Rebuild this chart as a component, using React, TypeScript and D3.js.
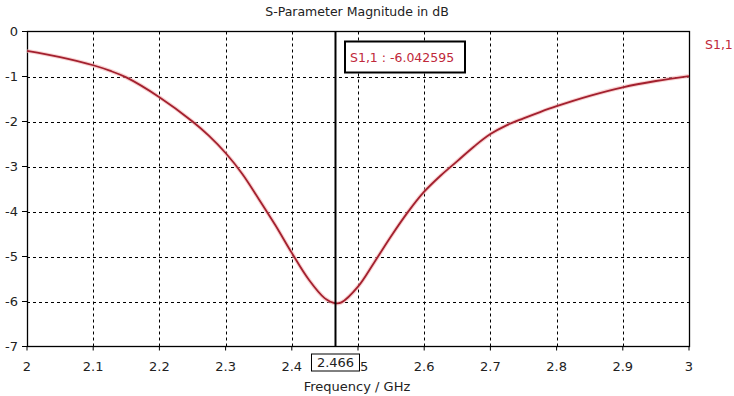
import React from "react";
import * as d3 from "d3";

// S1,1 magnitude (GHz, dB)
const freqs = [
  2.0, 2.05, 2.1, 2.125, 2.15, 2.2, 2.25, 2.275, 2.3, 2.325, 2.35, 2.375, 2.4,
  2.425, 2.45, 2.466, 2.475, 2.5, 2.525, 2.55, 2.575, 2.6, 2.625, 2.65, 2.675,
  2.7, 2.725, 2.75, 2.775, 2.8, 2.85, 2.9, 2.95, 3.0,
];
const s11 = [
  -0.43, -0.57, -0.75, -0.87, -1.02, -1.46, -2.0, -2.32, -2.7, -3.16, -3.72,
  -4.3, -4.92, -5.5, -5.93, -6.04, -6.02, -5.67, -5.12, -4.55, -4.02, -3.56,
  -3.2, -2.88, -2.56, -2.28, -2.08, -1.93, -1.79, -1.66, -1.43, -1.24, -1.1,
  -0.99,
];

const xTicks = [2, 2.1, 2.2, 2.3, 2.4, 2.5, 2.6, 2.7, 2.8, 2.9, 3];
const yTicks = [0, -1, -2, -3, -4, -5, -6, -7];

const markerFreq = 2.466;
const markerValue = -6.042595;
const seriesName = "S1,1";

const W = 734;
const H = 396;
const margin = { top: 31.5, right: 45, bottom: 49.5, left: 27 };
const font = "'DejaVu Sans', Verdana, sans-serif";
const red = "#c0283a";

export default function App() {
  const innerW = W - margin.left - margin.right;
  const innerH = H - margin.top - margin.bottom;

  const x = d3.scaleLinear().domain([2, 3]).range([margin.left, margin.left + innerW]);
  const y = d3.scaleLinear().domain([0, -7]).range([margin.top, margin.top + innerH]);

  const line = d3
    .line<number>()
    .x((d, i) => x(freqs[i]))
    .y((d) => y(d))
    .curve(d3.curveCatmullRom.alpha(0.5));
  const path = line(s11) || "";

  const mx = x(markerFreq);

  return (
    <svg
      width={W}
      height={H}
      style={{ position: "absolute", left: 0, top: 0, background: "#fff" }}
      fontFamily={font}
    >
      <rect x={0} y={0} width={W} height={H} fill="#fff" />
      <text x={357} y={16} fontSize={12.5} textAnchor="middle" fill="#222">
        S-Parameter Magnitude in dB
      </text>

      {/* grid */}
      {xTicks.slice(1, -1).map((t) => (
        <line
          key={"gx" + t}
          x1={Math.round(x(t)) + 0.5}
          x2={Math.round(x(t)) + 0.5}
          y1={y(0)}
          y2={y(-7)}
          stroke="#000"
          strokeWidth={1}
          strokeDasharray="3,3"
        />
      ))}
      {yTicks.slice(1, -1).map((t) => (
        <line
          key={"gy" + t}
          x1={x(2)}
          x2={x(3)}
          y1={Math.round(y(t)) + 0.5}
          y2={Math.round(y(t)) + 0.5}
          stroke="#000"
          strokeWidth={1}
          strokeDasharray="3,3"
        />
      ))}

      {/* frame */}
      <rect
        x={x(2) + 0.5}
        y={y(0)}
        width={innerW}
        height={innerH}
        fill="none"
        stroke="#000"
        strokeWidth={1.3}
      />

      {/* ticks + labels */}
      {yTicks.map((t) => (
        <g key={"ty" + t}>
          <line x1={x(2) - 5} x2={x(2)} y1={y(t)} y2={y(t)} stroke="#000" />
          <text x={18} y={y(t) + 4.5} fontSize={13} textAnchor="end" fill="#222">
            {t === 0 ? "0" : "-" + Math.abs(t)}
          </text>
        </g>
      ))}
      {xTicks.map((t) => (
        <g key={"tx" + t}>
          <line x1={x(t)} x2={x(t)} y1={y(-7)} y2={y(-7) + 4} stroke="#000" />
          <text x={x(t)} y={371} fontSize={13} textAnchor="middle" fill="#222">
            {d3.format("~g")(t)}
          </text>
        </g>
      ))}
      <text x={357} y={391} fontSize={13} textAnchor="middle" fill="#222">
        Frequency / GHz
      </text>

      {/* curve */}
      <path d={path} fill="none" stroke="#f3b4b4" strokeWidth={4} opacity={0.6} />
      <path d={path} fill="none" stroke="#a3202e" strokeWidth={1.8} />

      {/* marker */}
      <line x1={mx} x2={mx} y1={y(0)} y2={y(-7)} stroke="#000" strokeWidth={2} />
      <rect x={mx - 24} y={354} width={48} height={17} fill="#fff" stroke="#000" strokeWidth={1} />
      <text x={mx} y={367} fontSize={13} textAnchor="middle" fill="#222">
        {markerFreq}
      </text>
      <rect x={345} y={41.5} width={120} height={31} fill="#fff" stroke="#000" strokeWidth={2} />
      <text x={350} y={62} fontSize={12.5} fill={red}>
        {`${seriesName} : ${markerValue}`}
      </text>

      {/* legend */}
      <text x={705} y={49} fontSize={12.5} fill={red}>
        {seriesName}
      </text>
    </svg>
  );
}
